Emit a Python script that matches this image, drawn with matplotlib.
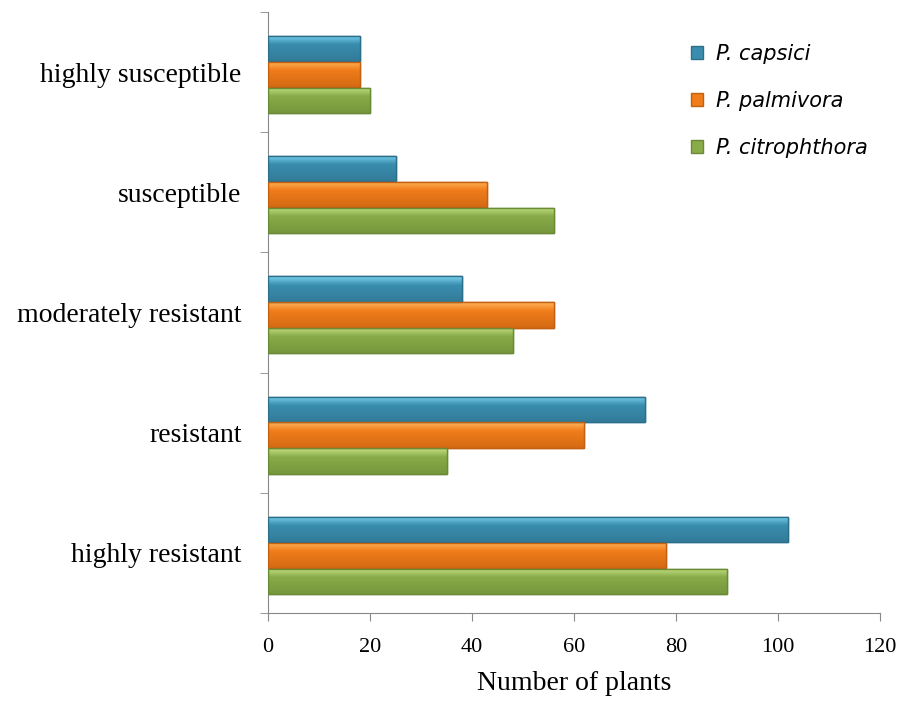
import numpy as np
import matplotlib
matplotlib.use("Agg")
import matplotlib.pyplot as plt
from matplotlib.colors import to_rgb

categories = ["highly resistant", "resistant", "moderately resistant", "susceptible", "highly susceptible"]
series_names = ["P. capsici", "P. palmivora", "P. citrophthora"]
capsici = [102, 74, 38, 25, 18]
palmivora = [78, 62, 56, 43, 18]
citrophthora = [90, 35, 48, 56, 20]
x_ticks = [0, 20, 40, 60, 80, 100, 120]

colors = ["#3A8DAE", "#F07C1A", "#89AB48"]
light = ["#7AD3EF", "#FFB55A", "#C3E182"]
dark = ["#2C6F8A", "#C25F10", "#6A8A35"]

fig = plt.figure(figsize=(9.16, 7.03), dpi=100)
ax = fig.add_axes([0.2926, 0.128, 0.6681, 0.855])

y = np.arange(len(categories))
h = 0.21
offsets = [0.215, 0.0, -0.215]
data = [capsici, palmivora, citrophthora]

handles = []
for i, (vals, off) in enumerate(zip(data, offsets)):
    bars = ax.barh(y + off - 0.02, vals, height=h, color=colors[i], edgecolor=dark[i],
                   linewidth=1.0, label=series_names[i], zorder=2)
    handles.append(bars)
    c_top = np.array(to_rgb(light[i]))
    c_mid = np.array(to_rgb(colors[i]))
    c_bot = np.array(to_rgb(dark[i]))
    t = np.linspace(0, 1, 64)[:, None]
    grad = np.where(t < 0.35, c_top + (c_mid - c_top) * (t / 0.35),
                    c_mid + (c_bot - c_mid) * ((t - 0.35) / 0.65) * 0.6)
    grad = grad[:, None, :].repeat(2, axis=1)
    for p in bars.patches:
        x0, yb = p.get_x(), p.get_y()
        w, hh = p.get_width(), p.get_height()
        im = ax.imshow(grad, extent=[x0, x0 + w, yb, yb + hh], origin="upper",
                       aspect="auto", zorder=2.5, interpolation="bilinear")
        im.set_clip_path(p)
        ax.add_patch(plt.Rectangle((x0, yb), w, hh, fill=False, edgecolor=dark[i],
                                   linewidth=1.0, zorder=3))

ax.set_xlim(0, 120)
ax.set_ylim(-0.5, len(categories) - 0.5)
ax.set_aspect("auto")

ax.set_xticks(x_ticks)
ax.set_xticklabels([str(v) for v in x_ticks], family="Liberation Serif", fontsize=16)
ax.set_yticks(y)
ax.set_yticklabels(categories, family="Liberation Serif", fontsize=20)
ax.set_yticks(np.arange(-0.5, len(categories)), minor=True)
ax.tick_params(axis="y", which="major", length=0, pad=19)
ax.tick_params(axis="y", which="minor", length=6, color="#888888", direction="out")
ax.tick_params(axis="x", which="major", length=6, color="#888888", direction="out", pad=12)

for s in ["top", "right"]:
    ax.spines[s].set_visible(False)
ax.spines["left"].set_color("#888888")
ax.spines["bottom"].set_color("#888888")

ax.set_xlabel("Number of plants", family="Liberation Serif", fontsize=20, labelpad=10)

leg = ax.legend(handles=handles, loc="upper right", bbox_to_anchor=(1.01, 0.978),
                frameon=False, prop={"family": "DejaVu Sans", "style": "italic", "size": 15},
                handlelength=0.6, handleheight=0.6, labelspacing=1.3, handletextpad=0.6)

fig.savefig("out.png", dpi=100, facecolor="white")
